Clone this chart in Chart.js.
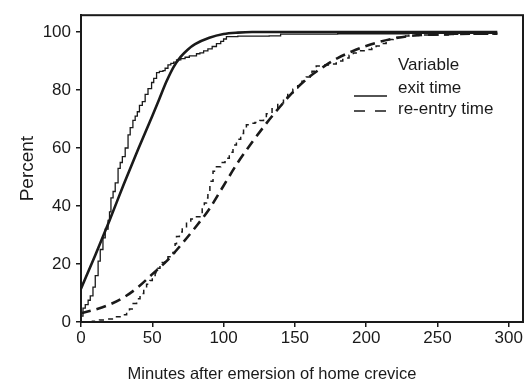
<!DOCTYPE html>
<html>
<head>
<meta charset="utf-8">
<script src="https://cdn.jsdelivr.net/npm/chart.js@4.4.0/dist/chart.umd.min.js"></script>
<style>
  html, body { margin: 0; padding: 0; background: #fff; }
  #wrap { width: 528px; height: 385px; position: relative; }
</style>
</head>
<body>
<div id="wrap"><canvas id="c" width="528" height="385"></canvas></div>
<script>
// ---- tick labels ----
const xTicks = [0, 50, 100, 150, 200, 250, 300];
const yTicks = [0, 20, 40, 60, 80, 100];

// ---- titles / legend ----
const xTitle = "Minutes after emersion of home crevice";
const yTitle = "Percent";
const legendTitle = "Variable";
const legendLabels = ["exit time", "re-entry time"];

// ---- exit time: empirical (step) ----
const exitEmpX = [0, 1.4, 3, 5, 6.5, 8.4, 10, 12, 13.5, 15.4, 17, 19, 20, 21, 22.5, 24, 26, 27.5, 29, 31, 33, 34.5, 36.4, 38, 39.5, 41, 43, 45, 47, 49.5, 51, 53, 55, 57.5, 59, 61, 63, 65, 67, 70, 73, 76, 78.5, 81, 83.4, 86, 89, 92, 95, 98, 100, 102, 110, 120, 132, 140, 180, 230, 292];
const exitEmpY = [2, 4.8, 6, 7.5, 9, 12, 16, 21, 25, 29, 32, 35, 38, 42.8, 45, 48, 53, 55, 57, 60, 64.5, 67, 69.5, 71, 72.5, 74.7, 76, 78.5, 80.5, 82.6, 84, 86, 86.4, 86.7, 87.5, 88.7, 89.2, 89.6, 90.4, 90.8, 91.3, 91.8, 91.8, 92.5, 92.8, 93.5, 94.2, 95, 96, 96.8, 97.6, 98.4, 98.6, 98.6, 98.7, 99.3, 99.4, 99.5, 99.5];

// ---- exit time: fitted (smooth) ----
const exitFitX = [0, 10, 20, 30, 40, 50, 55, 60, 65, 70, 75, 80, 90, 100, 110, 120, 150, 200, 250, 292];
const exitFitY = [11.5, 23, 35, 47.5, 59.5, 71, 77, 83, 88, 91.5, 94, 95.8, 98, 99.3, 99.8, 100, 100, 100, 100, 100];

// ---- re-entry time: empirical (step) ----
const reEmpX = [0, 8, 13, 18, 24, 28, 32, 34, 36.6, 39, 41.4, 44, 46, 48.4, 50, 52, 54, 55.4, 57, 59, 61, 63, 64.5, 66, 67, 69, 71, 74, 77, 80, 83.4, 85, 86.5, 88, 89, 90.4, 92.6, 95, 98, 101, 104, 106.6, 109, 112, 114, 116, 119, 122, 125.4, 128, 130, 134, 138, 142, 145, 148.6, 152, 155, 158, 162, 165, 170, 175, 179, 183.6, 188, 191, 195.5, 200, 204, 207, 211, 214, 219, 224, 230, 240, 260, 292];
const reEmpY = [0, 0.3, 0.7, 1, 1.8, 2.5, 3.5, 4.5, 6.4, 8, 9.8, 11.5, 13, 14.3, 15.5, 17, 18.5, 19.5, 20.5, 21.5, 22.5, 23.5, 24, 27, 29.5, 31, 32.5, 34.8, 35.5, 36.3, 37.2, 39, 41, 42.8, 45, 48.5, 52, 53.5, 55, 56.5, 58.5, 61, 63, 65, 66.5, 68, 68.5, 68.8, 69.5, 70.5, 71.8, 73.5, 75.5, 77.5, 79, 80.3, 81.5, 83, 84.5, 86.5, 88.3, 88.6, 89, 90, 91, 92, 92.8, 93.5, 94, 94.5, 95.2, 96, 97.4, 98.2, 98.6, 98.8, 99, 99.2, 99.2];

// ---- re-entry time: fitted (smooth) ----
const reFitX = [0, 10, 20, 30, 40, 50, 60, 70, 80, 90, 100, 110, 120, 130, 140, 150, 160, 170, 180, 190, 200, 210, 220, 230, 240, 260, 292];
const reFitY = [3, 4.3, 6, 8.5, 12, 16.5, 21, 26.5, 32.5, 39, 47, 55, 62, 68.5, 74.5, 80, 84.5, 88, 91, 93.3, 95.2, 96.7, 97.8, 98.6, 99, 99.3, 99.5];

const pts = (xs, ys) => xs.map((x, i) => ({ x: x, y: ys[i] }));

const FONT = "'Liberation Sans', Arial, Helvetica, sans-serif";
const INK = "#1a1a1a";

const frame = {
  id: 'frame',
  afterDraw(chart) {
    const a = chart.chartArea, ctx = chart.ctx;
    ctx.save();
    ctx.strokeStyle = INK;
    ctx.lineWidth = 2;
    ctx.strokeRect(a.left, a.top, a.right - a.left, a.bottom - a.top);
    ctx.fillStyle = INK;
    ctx.textBaseline = 'middle';
    // x axis title (offset left of plot centre, as in the original)
    ctx.font = "16.5px " + FONT;
    ctx.textAlign = 'center';
    ctx.fillText(xTitle, 272, 374);
    // legend
    ctx.font = "17px " + FONT;
    ctx.textAlign = 'left';
    ctx.fillText(legendTitle, 398, 65);
    ctx.fillText(legendLabels[0], 398, 88);
    ctx.fillText(legendLabels[1], 398, 109);
    ctx.lineWidth = 1.6;
    ctx.beginPath();
    ctx.moveTo(354, 96); ctx.lineTo(387, 96);
    ctx.stroke();
    ctx.setLineDash([11, 10]);
    ctx.beginPath();
    ctx.moveTo(354, 111); ctx.lineTo(387, 111);
    ctx.stroke();
    ctx.restore();
  }
};

new Chart(document.getElementById('c'), {
  type: 'scatter',
  data: {
    datasets: [
      { label: 'exit time (observed)', data: pts(exitEmpX, exitEmpY), showLine: true, stepped: true,
        borderColor: INK, borderWidth: 1.3, pointRadius: 0, fill: false },
      { label: 'exit time (fitted)', data: pts(exitFitX, exitFitY), showLine: true, cubicInterpolationMode: 'monotone',
        borderColor: INK, borderWidth: 2.6, pointRadius: 0, fill: false },
      { label: 're-entry time (observed)', data: pts(reEmpX, reEmpY), showLine: true, stepped: true,
        borderColor: INK, borderWidth: 1.5, borderDash: [5, 5], pointRadius: 0, fill: false },
      { label: 're-entry time (fitted)', data: pts(reFitX, reFitY), showLine: true, cubicInterpolationMode: 'monotone',
        borderColor: INK, borderWidth: 2.6, borderDash: [10, 6], pointRadius: 0, fill: false }
    ]
  },
  options: {
    responsive: false,
    animation: false,
    events: [],
    layout: { padding: { top: 12, right: 5, left: 0, bottom: 0 } },
    plugins: { legend: { display: false }, tooltip: { enabled: false } },
    scales: {
      x: {
        type: 'linear', min: 0, max: 310,
        afterBuildTicks: s => { s.ticks = xTicks.map(v => ({ value: v })); },
        afterFit: s => { s.height = 63; },
        grid: { display: true, drawOnChartArea: false, drawTicks: true, tickLength: 5, color: INK, lineWidth: 1.5 },
        border: { display: true, color: INK, width: 2 },
        ticks: { color: INK, font: { family: FONT, size: 17 }, padding: 1, maxRotation: 0 },
        title: { display: false }
      },
      y: {
        type: 'linear', min: 0, max: 105.8,
        afterBuildTicks: s => { s.ticks = yTicks.map(v => ({ value: v })); },
        afterFit: s => { s.width = 81; },
        grid: { display: true, drawOnChartArea: false, drawTicks: true, tickLength: 5, color: INK, lineWidth: 1.5 },
        border: { display: true, color: INK, width: 2 },
        ticks: { color: INK, font: { family: FONT, size: 17 }, padding: 5 },
        title: { display: true, text: yTitle, color: INK,
                 font: { family: FONT, size: 19 }, padding: { top: 16, bottom: 0 } }
      }
    }
  },
  plugins: [frame]
});
</script>
</body>
</html>
